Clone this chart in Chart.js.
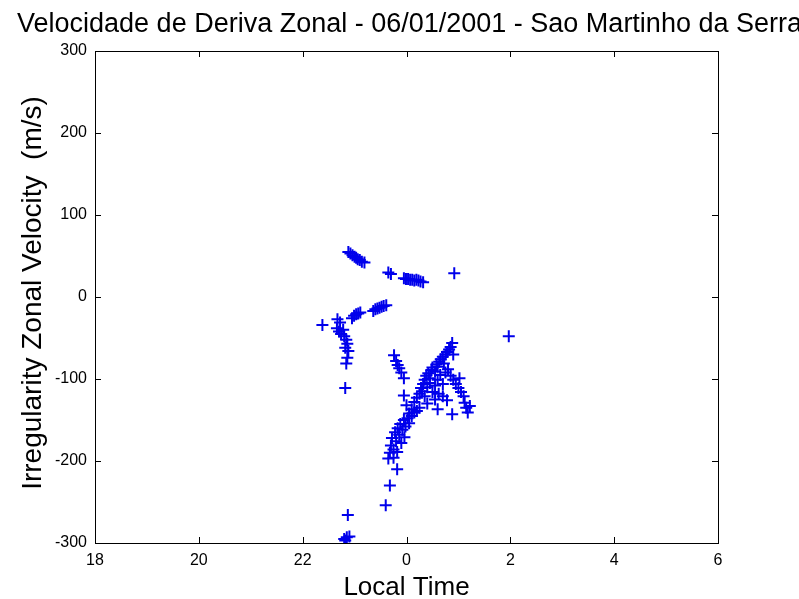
<!DOCTYPE html>
<html>
<head>
<meta charset="utf-8">
<script src="https://cdn.jsdelivr.net/npm/chart.js@4/dist/chart.umd.min.js"></script>
<style>
  body { margin: 0; background: white; }
  #chart-container { width: 799px; height: 599px; position: relative; }
</style>
</head>
<body>
<div id="chart-container"><canvas id="chart"></canvas></div>
<script>
// local time in hours (after midnight written as 24+h) and zonal velocity in m/s
var localTime = [
  // top slanted group
  22.88, 22.92, 22.96, 23.00, 23.03, 23.06, 23.10, 23.14, 23.19,
  23.65, 23.70, 24.92,
  23.95, 23.99, 24.03, 24.07, 24.11, 24.15, 24.19, 24.23, 24.27, 24.32,
  // row near -20
  22.38, 22.67, 22.72, 22.95, 22.99, 23.03, 23.07, 23.11, 23.36, 23.40, 23.44, 23.48, 23.52, 23.56, 23.61,
  // column under 23h
  22.66, 22.70, 22.74, 22.78, 22.80, 22.84, 22.86, 22.82, 22.88, 22.86, 22.84, 22.82,
  23.76, 23.80, 23.83, 23.86, 23.90, 23.95, 23.95,
  // main cloud after midnight
  24.15, 24.20, 24.25, 24.28, 24.32, 24.35, 24.38, 24.42, 24.45, 24.48,
  24.50, 24.55, 24.58, 24.60, 24.63, 24.66, 24.70, 24.72, 24.75, 24.78,
  24.82, 24.85, 24.88, 24.90, 24.30, 24.40, 24.45, 24.50, 24.55, 24.60,
  24.65, 24.70, 24.75, 24.80, 24.85, 24.90, 24.95, 25.00, 25.02, 25.05,
  25.10, 25.12, 25.15, 25.18, 25.22, 24.60, 24.88, 24.78, 24.70, 24.62,
  24.55, 24.40, 24.35, 24.25, 24.20, 24.10, 24.05, 24.00,
  // lower diagonal
  23.68, 23.70, 23.72, 23.75, 23.78, 23.80, 23.83, 23.86, 23.88, 23.92,
  23.95, 23.98, 24.02, 24.05, 24.10, 24.15, 23.75, 23.82, 23.90, 23.96,
  // tail
  23.65, 23.82, 23.68, 23.60, 22.87, 22.85, 22.80, 22.90, 22.82,
  25.97
];
var velocity = [
  55, 53, 51, 49, 48, 46, 45, 43, 42,
  30, 28, 29,
  23, 22, 22, 21, 21, 20, 21, 20, 19, 18,
  -34, -27, -31, -26, -23, -21, -20, -19, -17, -15, -14, -13, -12, -11, -10,
  -38, -42, -45, -40, -48, -52, -57, -62, -66, -74, -81, -111,
  -71, -78, -83, -87, -92, -99, -120,
  -128, -123, -118, -111, -106, -101, -96, -93, -99, -89,
  -86, -91, -82, -85, -79, -76, -73, -81, -70, -67,
  -64, -61, -56, -70, -115, -110, -105, -116, -108, -101,
  -95, -106, -92, -88, -96, -101, -106, -111, -99, -116,
  -121, -129, -135, -141, -133, -137, -143, -126, -121, -118,
  -125, -130, -121, -135, -139, -137, -142, -132,
  -190, -181, -172, -186, -165, -176, -160, -168, -155, -162,
  -150, -158, -148, -154, -145, -141, -196, -189, -178, -171,
  -197, -210, -230, -254, -266, -293, -295, -292, -297,
  -48
];
var xTicks = [18, 20, 22, 24, 26, 28, 30];
var yTicks = [-300, -200, -100, 0, 100, 200, 300];

var titulo = "Velocidade de Deriva Zonal - 06/01/2001 - Sao Martinho da Serra";
var xTitle = "Local Time";
var yTitle = "Irregularity Zonal Velocity  (m/s)";

var points = localTime.map(function (t, i) {
  return { x: t, y: velocity[i] };
});

// box, inward ticks and texts like the matlab figure
var matlabFrame = {
  id: "matlabFrame",
  afterDraw: function (chart) {
    var ctx = chart.ctx;
    var a = chart.chartArea;
    var xs = chart.scales.x;
    var ys = chart.scales.y;
    var tl = 6;
    ctx.save();
    ctx.strokeStyle = "#000";
    ctx.lineWidth = 1;
    ctx.strokeRect(Math.round(a.left) + 0.5, Math.round(a.top) + 0.5,
      Math.round(a.right - a.left), Math.round(a.bottom - a.top));
    ctx.beginPath();
    xTicks.forEach(function (v) {
      var px = Math.round(xs.getPixelForValue(v)) + 0.5;
      ctx.moveTo(px, a.bottom); ctx.lineTo(px, a.bottom - tl);
      ctx.moveTo(px, a.top); ctx.lineTo(px, a.top + tl);
    });
    yTicks.forEach(function (v) {
      var py = Math.round(ys.getPixelForValue(v)) + 0.5;
      ctx.moveTo(a.left, py); ctx.lineTo(a.left + tl, py);
      ctx.moveTo(a.right, py); ctx.lineTo(a.right - tl, py);
    });
    ctx.stroke();

    ctx.fillStyle = "#000";
    ctx.font = "27px 'Liberation Sans'";
    ctx.textAlign = "left";
    ctx.textBaseline = "alphabetic";
    ctx.fillText(titulo, 17, 32);

    ctx.font = "26px 'Liberation Sans'";
    ctx.textAlign = "center";
    ctx.fillText(xTitle, (a.left + a.right) / 2, 595);

    ctx.font = "28px 'Liberation Sans'";
    ctx.translate(41, (a.top + a.bottom) / 2 - 4);
    ctx.rotate(-Math.PI / 2);
    ctx.fillText(yTitle, 0, 0);
    ctx.restore();
  }
};

var ctx = document.getElementById("chart");

window.myChart = new Chart(ctx, {
  type: "scatter",
  data: {
    datasets: [
      {
        label: "Velocidade",
        data: points,
        pointStyle: "cross",
        pointRadius: 6,
        pointBorderWidth: 2,
        borderColor: "rgb(0, 0, 235)",
        backgroundColor: "rgb(0, 0, 235)",
      },
    ],
  },
  options: {
    responsive: true,
    maintainAspectRatio: false,
    animation: false,
    layout: {
      padding: { left: 0, right: 81, top: 51, bottom: 0 }
    },
    plugins: {
      legend: { display: false },
      tooltip: { enabled: false }
    },
    scales: {
      x: {
        type: "linear",
        min: 18,
        max: 30,
        afterFit: function (scale) { scale.height = 56; },
        afterBuildTicks: function (scale) {
          scale.ticks = xTicks.map(function (v) { return { value: v }; });
        },
        grid: { display: false, drawTicks: false },
        border: { display: false },
        ticks: {
          padding: 8,
          color: "#000",
          font: { family: "Liberation Sans", size: 16 },
          callback: function (value) { return String(value % 24); }
        }
      },
      y: {
        type: "linear",
        min: -300,
        max: 300,
        afterFit: function (scale) { scale.width = 95; },
        afterBuildTicks: function (scale) {
          scale.ticks = yTicks.map(function (v) { return { value: v }; });
        },
        grid: { display: false, drawTicks: false },
        border: { display: false },
        ticks: {
          padding: 8,
          color: "#000",
          font: { family: "Liberation Sans", size: 16 }
        }
      }
    }
  },
  plugins: [matlabFrame]
});
</script>
</body>
</html>
